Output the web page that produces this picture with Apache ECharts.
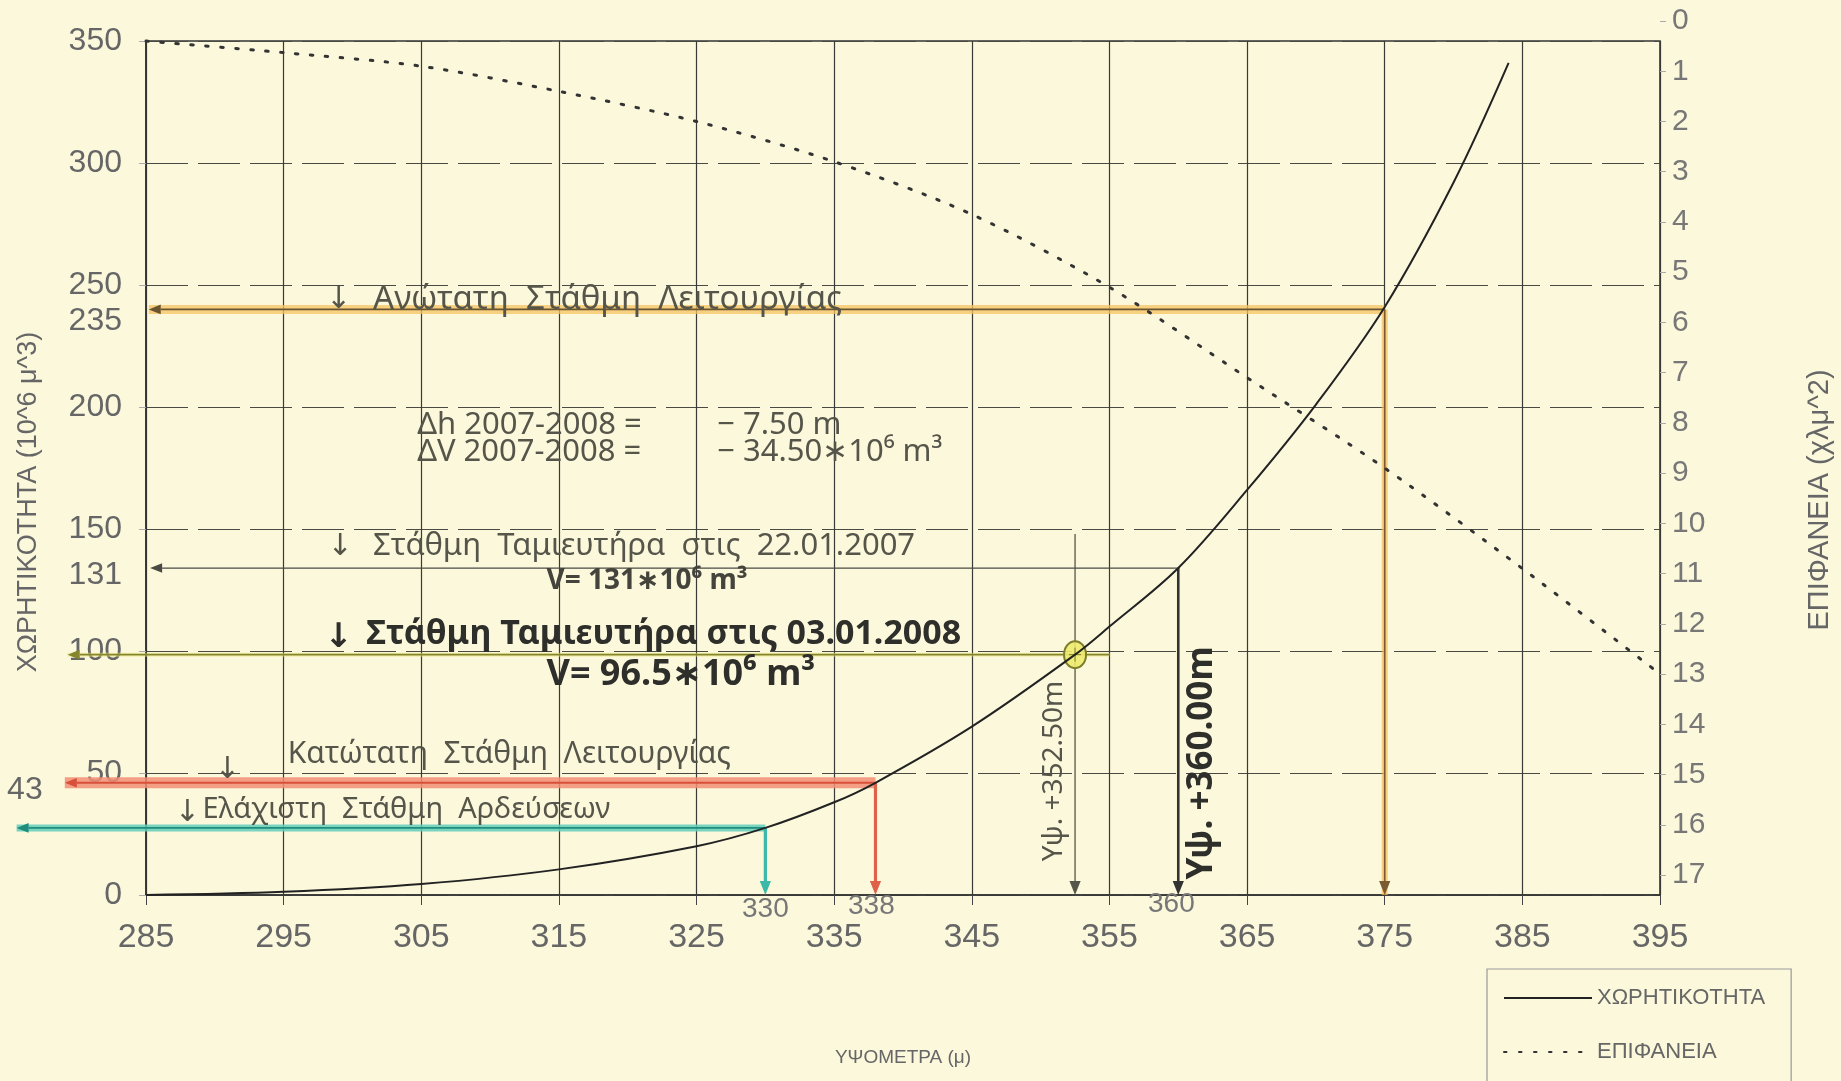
<!DOCTYPE html>
<html>
<head>
<meta charset="utf-8">
<script src="https://cdn.jsdelivr.net/npm/echarts@6/dist/echarts.min.js"></script>
<style>
  html, body { margin: 0; padding: 0; background: #fcf8dc; }
  #chart { width: 1841px; height: 1081px; }
</style>
</head>
<body>
<div id="chart"></div>
<script>
// υψόμετρα (m) και χωρητικότητα (10^6 m^3)
const levels   = [285, 295, 305, 315, 325, 330, 335, 338, 345, 352.5, 355, 360, 365, 370, 375, 380, 384];
const capacity = [0, 1.3, 4.5, 10.5, 20, 27.5, 38, 46, 69, 98.5, 110, 134, 166, 201, 241, 292, 341];

// επιφάνεια (km^2)
const surfaceLevels = [285, 295, 305, 315, 325, 335, 345, 355, 365, 375, 385, 395];
const surface       = [0.4, 0.63, 0.9, 1.4, 2.0, 2.8, 3.85, 5.3, 7.1, 8.9, 10.9, 13.0];

// άξονες
const xTicks = [285, 395, 10];
const yTickLabels = [0, 50, 100, 131, 150, 200, 235, 250, 300, 350];
const areaTicks = [0, 17, 1];

// γραμμές αναφοράς: ανώτατη, 22.01.2007, 03.01.2008, κατώτατη, ελάχιστη
const refLevels    = [375, 360, 352.5, 338, 330];
const refVolumes   = [240, 134, 98.5, 46, 27.5];
const refRightEnds = [375, 360, 355, 338, 330];
const refArrowEnds = [285.2, 285.3, 279.3, 279.1, 275.6];
const refDropTops  = [240, 134, 148, 46, 27.5];

// σημειώσεις: κείμενο, υψόμετρο, χωρητικότητα, είδος
const notes = [
  ['↓', 299.0, 244, 'hook'],
  ['Ανώτατη  Στάθμη  Λειτουργίας', 301.5, 244, 'top'],
  ['Δh 2007-2008 =', 304.7, 192.6, 'delta'],
  ['− 7.50 m', 326.5, 192.6, 'delta'],
  ['ΔV 2007-2008 =', 304.7, 181.6, 'delta'],
  ['− 34.50∗10⁶ m³', 326.5, 181.6, 'delta'],
  ['↓', 299.1, 143, 'hook'],
  ['Στάθμη  Ταμιευτήρα  στις  22.01.2007', 301.5, 143, 'mid'],
  ['V= 131∗10⁶ m³', 314.1, 128.7, 'semi'],
  ['↓', 299.0, 105.6, 'hookBold'],
  ['Στάθμη Ταμιευτήρα στις 03.01.2008', 301.0, 107, 'bold'],
  ['V= 96.5∗10⁶ m³', 314.1, 90.2, 'boldV'],
  ['↓', 290.9, 51.6, 'hook'],
  ['Κατώτατη  Στάθμη  Λειτουργίας', 295.3, 57.4, 'low'],
  ['↓', 288.0, 33.9, 'hook'],
  ['Ελάχιστη  Στάθμη  Αρδεύσεων', 289.1, 34.8, 'min'],
  ['Υψ. +352.50m', 351.0, 50.8, 'vert'],
  ['Υψ. +360.00m', 361.7, 54.1, 'vertBold'],
  ['330', 330.0, -6.0, 'tick'],
  ['338', 337.7, -4.5, 'tick'],
  ['360', 359.5, -3.7, 'tick'],
  ['43', 276.2, 43, 'side']
];

const NARROW = '"Liberation Sans Narrow", "Liberation Sans", Arial, sans-serif';
const HAND = '"Noto Sans", "DejaVu Sans", sans-serif';
const PEN = '#55554a', INK = '#2e2e2a';

const noteStyles = {
  hook:     { size: 30, weight: 'normal', color: PEN, align: 'center', family: HAND },
  hookBold: { size: 34, weight: 'bold', color: INK, align: 'center', family: HAND },
  top:      { size: 33, weight: 'normal', color: PEN, align: 'left', family: HAND },
  delta:    { size: 31, weight: 'normal', color: PEN, align: 'left', family: HAND },
  mid:      { size: 31, weight: 'normal', color: PEN, align: 'left', family: HAND },
  semi:     { size: 28, weight: 'bold', color: '#44443c', align: 'left', family: HAND },
  bold:     { size: 34, weight: 'bold', color: INK, align: 'left', family: HAND },
  boldV:    { size: 36, weight: 'bold', color: INK, align: 'left', family: HAND },
  low:      { size: 30, weight: 'normal', color: PEN, align: 'left', family: HAND },
  min:      { size: 29, weight: 'normal', color: PEN, align: 'left', family: HAND },
  vert:     { size: 28, weight: 'normal', color: PEN, align: 'center', family: HAND, rotate: true },
  vertBold: { size: 35, weight: 'bold', color: INK, align: 'center', family: HAND, rotate: true },
  tick:     { size: 28, weight: 'normal', color: '#777', align: 'center', family: NARROW },
  side:     { size: 32, weight: 'normal', color: '#666', align: 'center', family: NARROW }
};

const refStyles = [
  { line: '#6a5530', band: 'rgba(246,196,96,0.75)', w: 1.6, bw: 9, drop: '#7a5a30', dropBand: 'rgba(246,190,90,0.7)', dw: 1.6, dbw: 6 },
  { line: '#4a4a44', band: null, w: 1.3, bw: 0, drop: '#333', dropBand: null, dw: 2.6, dbw: 0 },
  { line: '#85852e', band: 'rgba(238,232,120,0.5)', w: 1.8, bw: 4, drop: '#55554a', dropBand: null, dw: 1.3, dbw: 0 },
  { line: '#d8503a', band: 'rgba(242,142,118,0.85)', w: 2, bw: 11, drop: '#e0604a', dropBand: null, dw: 3.2, dbw: 0 },
  { line: '#1f8c7c', band: 'rgba(98,206,186,0.85)', w: 1.6, bw: 7, drop: '#3ab8a8', dropBand: null, dw: 3.2, dbw: 0 }
];

function arrow(p1, p2, color, width, head) {
  const dx = p2[0] - p1[0], dy = p2[1] - p1[1];
  const len = Math.sqrt(dx * dx + dy * dy) || 1;
  const ux = dx / len, uy = dy / len;
  const hx = p2[0] - ux * head, hy = p2[1] - uy * head;
  const nx = -uy * head * 0.4, ny = ux * head * 0.4;
  return [
    { type: 'line', shape: { x1: p1[0], y1: p1[1], x2: hx, y2: hy }, style: { stroke: color, lineWidth: width } },
    { type: 'polygon', shape: { points: [[p2[0], p2[1]], [hx + nx, hy + ny], [hx - nx, hy - ny]] }, style: { fill: color } }
  ];
}

function band(p1, p2, color, width) {
  return { type: 'line', shape: { x1: p1[0], y1: p1[1], x2: p2[0], y2: p2[1] }, style: { stroke: color, lineWidth: width } };
}

function renderRef(params, api) {
  const i = params.dataIndex;
  const s = refStyles[i];
  const corner = api.coord([refRightEnds[i], refVolumes[i]]);
  const left = api.coord([refArrowEnds[i], refVolumes[i]]);
  const top = api.coord([refLevels[i], refDropTops[i]]);
  const bottom = api.coord([refLevels[i], 0]);
  const kids = [];
  if (s.band) kids.push(band(corner, left, s.band, s.bw));
  if (s.dropBand) kids.push(band(top, bottom, s.dropBand, s.dbw));
  kids.push(...arrow(corner, left, s.line, s.w, 12));
  kids.push(...arrow(top, bottom, s.drop, s.dw, 14));
  if (i === 2) {
    const c = api.coord([refLevels[i], refVolumes[i]]);
    kids.push({ type: 'ellipse', shape: { cx: c[0], cy: c[1], rx: 11, ry: 13.5 },
      style: { fill: 'rgba(238,234,110,0.9)', stroke: '#7d7d2a', lineWidth: 2 } });
    kids.push({ type: 'line', shape: { x1: c[0] - 6, y1: c[1], x2: c[0] + 6, y2: c[1] }, style: { stroke: '#7d7d2a', lineWidth: 1 } });
    kids.push({ type: 'line', shape: { x1: c[0], y1: c[1] - 7, x2: c[0], y2: c[1] + 7 }, style: { stroke: '#7d7d2a', lineWidth: 1 } });
  }
  return { type: 'group', children: kids };
}

function renderNote(params, api) {
  const n = notes[params.dataIndex];
  const st = noteStyles[n[3]];
  const p = api.coord([n[1], n[2]]);
  return {
    type: 'text', x: p[0], y: p[1], rotation: st.rotate ? Math.PI / 2 : 0,
    style: { text: n[0], fill: st.color, fontSize: st.size, fontWeight: st.weight,
      fontFamily: st.family, align: st.align, verticalAlign: 'middle' }
  };
}

const chart = echarts.init(document.getElementById('chart'), null, { renderer: 'canvas' });

chart.setOption({
  backgroundColor: '#fcf8dc',
  animation: false,
  grid: [
    { left: 146, right: 181, top: 41, bottom: 186, show: true, borderColor: '#333', borderWidth: 1.6 },
    { left: 146, right: 181, top: 21, bottom: 206, show: false }
  ],
  legend: {
    orient: 'vertical', left: 1487, top: 969, height: 240,
    itemWidth: 88, itemHeight: 14, itemGap: 32,
    padding: [18, 26, 60, 16],
    borderColor: '#999', borderWidth: 1.2,
    itemStyle: { opacity: 0 },
    textStyle: { fontFamily: NARROW, fontSize: 22, color: '#666' },
    data: ['ΧΩΡΗΤΙΚΟΤΗΤΑ', 'ΕΠΙΦΑΝΕΙΑ']
  },
  xAxis: [
    {
      type: 'value', gridIndex: 0, min: xTicks[0], max: xTicks[1], interval: xTicks[2],
      name: 'ΥΨΟΜΕΤΡΑ (μ)', nameLocation: 'middle', nameGap: 153,
      nameTextStyle: { fontFamily: NARROW, fontSize: 19, color: '#666' },
      axisLine: { lineStyle: { color: '#333', width: 1.6 } },
      axisTick: { length: 10, lineStyle: { color: '#444' } },
      axisLabel: { fontFamily: NARROW, fontSize: 34, color: '#666', margin: 26 },
      splitLine: { show: true, lineStyle: { color: '#3a3a36', width: 1.2 } }
    },
    { type: 'value', gridIndex: 1, min: xTicks[0], max: xTicks[1], show: false }
  ],
  yAxis: [
    {
      type: 'value', gridIndex: 0, min: 0, max: 350, interval: 50,
      axisLine: { show: true, lineStyle: { color: '#333', width: 1.6 } },
      axisTick: { show: true, length: 7, lineStyle: { color: '#aaa' } },
      axisLabel: { fontFamily: NARROW, fontSize: 32, color: '#666', margin: 24, customValues: yTickLabels },
      splitLine: { show: true, lineStyle: { color: '#4a4a44', width: 1.2, type: [42, 10] } }
    },
    {
      type: 'value', gridIndex: 1, position: 'right', inverse: true,
      min: areaTicks[0], max: areaTicks[1], interval: areaTicks[2],
      axisLine: { show: false },
      axisTick: { show: true, length: 6, lineStyle: { color: '#aaa' } },
      axisLabel: { fontFamily: NARROW, fontSize: 30, color: '#777', margin: 12 },
      splitLine: { show: false }
    }
  ],
  graphic: [
    { type: 'text', x: 29, y: 502, rotation: Math.PI / 2,
      style: { text: 'ΧΩΡΗΤΙΚΟΤΗΤΑ (10^6 μ^3)', fill: '#666', fontFamily: NARROW, fontSize: 27, align: 'center', verticalAlign: 'middle' } },
    { type: 'text', x: 1820, y: 500, rotation: Math.PI / 2,
      style: { text: 'ΕΠΙΦΑΝΕΙΑ (χλμ^2)', fill: '#666', fontFamily: NARROW, fontSize: 29, align: 'center', verticalAlign: 'middle' } }
  ],
  series: [
    {
      name: 'ΧΩΡΗΤΙΚΟΤΗΤΑ', type: 'line', xAxisIndex: 0, yAxisIndex: 0,
      data: levels.map((x, i) => [x, capacity[i]]),
      smooth: 0.35, symbol: 'none',
      lineStyle: { color: '#222', width: 2 }, itemStyle: { color: '#222' }, z: 4
    },
    {
      name: 'ΕΠΙΦΑΝΕΙΑ', type: 'line', xAxisIndex: 1, yAxisIndex: 1,
      data: surfaceLevels.map((x, i) => [x, surface[i]]),
      smooth: 0.3, symbol: 'none',
      lineStyle: { color: '#333', width: 3, type: [2.5, 12.5], cap: 'round' }, itemStyle: { color: '#333' }, z: 4
    },
    {
      type: 'custom', xAxisIndex: 0, yAxisIndex: 0, clip: false, silent: true, z: 3,
      data: refLevels.map((x, i) => [x, refVolumes[i]]),
      renderItem: renderRef
    },
    {
      type: 'custom', xAxisIndex: 0, yAxisIndex: 0, clip: false, silent: true, z: 5,
      data: notes.map(n => [n[1], n[2]]),
      renderItem: renderNote
    }
  ]
});
</script>
</body>
</html>
